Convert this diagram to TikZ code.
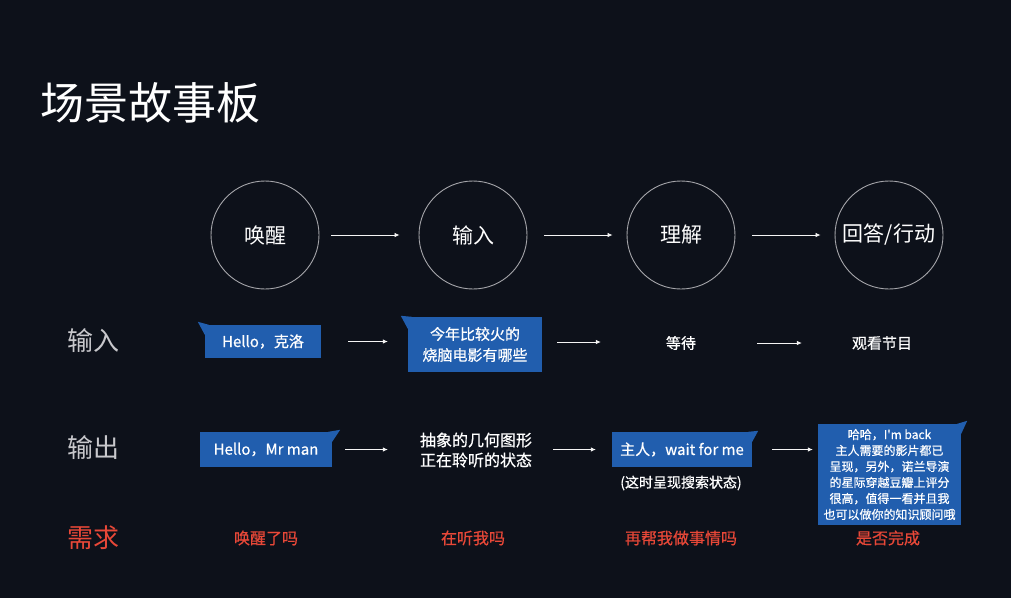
\documentclass[tikz,border=0pt]{standalone}
\usepackage{fontspec}
\setmainfont{Noto Sans CJK SC}
\newfontfamily\medfont{Noto Sans CJK SC}[FakeBold=0.6]
\usetikzlibrary{arrows.meta,calc}
\definecolor{bg}{RGB}{13,17,26}
\definecolor{bubble}{RGB}{33,94,174}
\definecolor{ringc}{RGB}{165,165,170}
\definecolor{labelc}{RGB}{200,200,204}
\definecolor{needc}{RGB}{232,72,56}
\begin{document}
\begin{tikzpicture}[x=1pt,y=-1pt,
  ring/.style={circle,draw=ringc,line width=0.9pt,minimum size=108pt,inner sep=0pt,text=white,font=\fontsize{21}{25}\selectfont},
  rowlabel/.style={inner sep=0pt,text=labelc,font=\fontsize{26}{30}\selectfont},
  bub/.style={fill=bubble,inner sep=0pt,text=white,align=center,font=\medfont\fontsize{15}{21}\selectfont},
  plain/.style={inner sep=0pt,text=white,align=center,font=\medfont\fontsize{15}{20}\selectfont},
  need/.style={inner sep=0pt,text=needc,font=\medfont\fontsize{16}{20}\selectfont},
  arr/.style={draw=white!92!gray,line width=0.8pt,-{Latex[length=5pt,width=4.5pt]}}
]
\fill[bg] (0,0) rectangle (1011,598);
\useasboundingbox (0,0) rectangle (1011,598);

% title
\node[anchor=west,inner sep=0pt,text=white,font=\fontsize{44}{50}\selectfont] (title) at (40,103) {场景故事板};

% circles
\node[ring] (c1) at (265,235) {唤醒};
\node[ring] (c2) at (473,235) {输入};
\node[ring] (c3) at (681,235) {理解};
\node[ring] (c4) at (889,235) {回答/行动};
\draw[arr] ([xshift=12pt]c1.east) -- ([xshift=-19pt]c2.west);
\draw[arr] ([xshift=17pt]c2.east) -- ([xshift=-14pt]c3.west);
\draw[arr] ([xshift=17pt]c3.east) -- ([xshift=-14pt]c4.west);

% row labels
\node[rowlabel] (lin) at (93,341) {输入};
\node[rowlabel] (lout) at (93,448) {输出};
\node[rowlabel,text=needc] (lneed) at (93,538) {需求};

% input row
\node[bub,minimum width=116pt,minimum height=33pt] (i1) at (263,341.5) {Hello，克洛};
\fill[bubble] ($(i1.north west)+(0,10)$) -- ($(i1.north west)+(-7,-3)$) -- ($(i1.north west)+(4,0)$) -- cycle;
\node[bub,minimum width=134pt,minimum height=55pt] (i2) at (475,344.5) {今年比较火的\\烧脑电影有哪些};
\fill[bubble] ($(i2.north west)+(0,12)$) -- ($(i2.north west)+(-7,-1)$) -- ($(i2.north west)+(4,0)$) -- cycle;
\node[plain] (i3) at (681,343) {等待};
\node[plain] (i4) at (882,343) {观看节目};
\coordinate (a2s) at ([xshift=15pt,yshift=2.5pt]i2.east);
\draw[arr] ([xshift=27pt]i1.east) -- ([xshift=-20pt]i2.west |- i1.east);
\draw[arr] (a2s) -- ([xshift=-65pt]i3.west |- a2s);
\draw[arr] ([xshift=61pt]i3.east) -- ([xshift=-50pt]i4.west);

% output row
\node[bub,minimum width=132pt,minimum height=35pt] (o1) at (266,449.5) {Hello，Mr man};
\fill[bubble] ($(o1.north east)+(0,10)$) -- ($(o1.north east)+(8,-2)$) -- ($(o1.north east)+(-4,0)$) -- cycle;
\node[plain,font=\medfont\fontsize{16}{20}\selectfont] (o2) at (476,450) {抽象的几何图形\\正在聆听的状态};
\node[bub,minimum width=140pt,minimum height=35pt] (o3) at (682,449.5) {主人，wait for me};
\fill[bubble] ($(o3.north east)+(0,10)$) -- ($(o3.north east)+(6,-1)$) -- ($(o3.north east)+(-4,0)$) -- cycle;
\node[plain,font=\medfont\fontsize{14}{18}\selectfont] (o3n) at (681,483) {(这时呈现搜索状态)};
\node[bub,minimum width=143pt,minimum height=101pt,font=\medfont\fontsize{12}{16}\selectfont] (o4) at (889.5,474.5) {哈哈，I'm back\\主人需要的影片都已\\呈现，另外，诺兰导演\\的星际穿越豆瓣上评分\\很高，值得一看并且我\\也可以做你的知识顾问哦};
\fill[bubble] ($(o4.north east)+(0,10)$) -- ($(o4.north east)+(6,-3)$) -- ($(o4.north east)+(-4,0)$) -- cycle;
\draw[arr] ([xshift=13pt]o1.east) -- ([xshift=-32pt]o2.west |- o1.east);
\draw[arr] ([xshift=21pt]o2.east |- o3.west) -- ([xshift=-16pt]o3.west);
\draw[arr] ([xshift=20pt]o3.east) -- ([xshift=-5pt]o4.west |- o3.east);

% needs row
\node[need] (n1) at (266,538) {唤醒了吗};
\node[need] (n2) at (473,538) {在听我吗};
\node[need] (n3) at (681,538) {再帮我做事情吗};
\node[need] (n4) at (888,538) {是否完成};
\end{tikzpicture}
\end{document}
